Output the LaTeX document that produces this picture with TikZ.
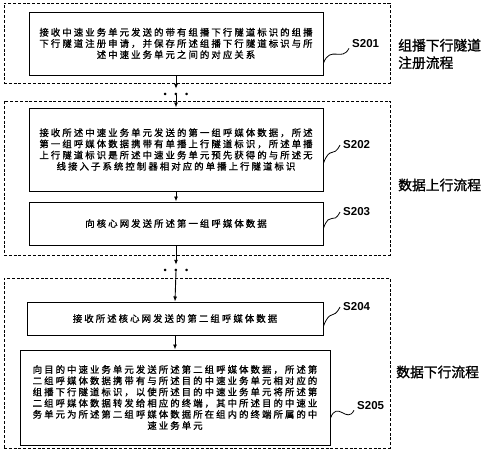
\documentclass[tikz,border=0pt]{standalone}
\usepackage{fontspec}
\usetikzlibrary{arrows.meta}
\newfontfamily\cjk[LetterSpace=22, FakeBold=1.2]{Noto Sans CJK SC}
\newfontfamily\cjkhead[FakeBold=1.2]{Noto Sans CJK SC}
\newfontfamily\steplabel{Liberation Sans}

\begin{document}
\begin{tikzpicture}[x=1pt, y=-1pt,
    stepbox/.style={draw, line width=1pt, align=center, inner sep=0pt, font=\cjk\fontsize{9.4}{11.2}\selectfont},
    groupbox/.style={draw, dash pattern=on 3pt off 1.8pt, line width=0.9pt, minimum width=386pt, inner sep=0pt},
    grouptitle/.style={anchor=west, align=left, inner sep=0pt, font=\cjkhead\fontsize{13.8}{17.5}\selectfont},
    steptag/.style={anchor=west, inner xsep=3pt, inner ysep=0pt, font=\steplabel\bfseries\fontsize{11.5}{12}\selectfont},
    flow/.style={-{Latex[length=5pt,width=4pt]}, line width=0.9pt},
    wave/.style={line width=0.8pt},
    gapdots/.style={minimum height=12pt, inner sep=0pt, font=\fontsize{9}{9}\selectfont}]

        \useasboundingbox (0,0) rectangle (490,450);

        % Draw the three process groups
        \node[groupbox, minimum height=80pt] (group1) at (197,43) {};
        \node[groupbox, minimum height=154pt] (group2) at (197,178) {};
        \node[groupbox, minimum height=170pt] (group3) at (197,363) {};

        \node[grouptitle] (title1) at (398,54) {组播下行隧道\\注册流程};
        \node[grouptitle] (title2) at (398,185) {数据上行流程};
        \node[grouptitle] (title3) at (396,372) {数据下行流程};

        % Draw steps
        \node[stepbox, minimum width=294pt, minimum height=63pt] (s201) at (176,43.5) {接收中速业务单元发送的带有组播下行隧道标识的组播\\下行隧道注册申请，并保存所述组播下行隧道标识与所\\述中速业务单元之间的对应关系};
        \node[stepbox, minimum width=294pt, minimum height=83pt] (s202) at (176,149.5) {接收所述中速业务单元发送的第一组呼媒体数据，所述\\第一组呼媒体数据携带有单播上行隧道标识，所述单播\\上行隧道标识是所述中速业务单元预先获得的与所述无\\线接入子系统控制器相对应的单播上行隧道标识};
        \node[stepbox, minimum width=294pt, minimum height=43pt] (s203) at (176,223.5) {向核心网发送所述第一组呼媒体数据};
        \node[stepbox, minimum width=296pt, minimum height=33pt] (s204) at (175,318.5) {接收所述核心网发送的第二组呼媒体数据};
        \node[stepbox, minimum width=310pt, minimum height=95pt] (s205) at (175,397.5) {向目的中速业务单元发送所述第二组呼媒体数据，所述第\\二组呼媒体数据携带有与所述目的中速业务单元相对应的\\组播下行隧道标识，以使所述目的中速业务单元将所述第\\二组呼媒体数据转发给相应的终端，其中所述目的中速业\\务单元为所述第二组呼媒体数据所在组内的终端所属的中\\速业务单元};

        % Step numbers
        \node[steptag] (t201) at (349,44) {S201};
        \node[steptag] (t202) at (340,145) {S202};
        \node[steptag] (t203) at (340,212) {S203};
        \node[steptag] (t204) at (340,307) {S204};
        \node[steptag] (t205) at (354,406) {S205};

        \draw[wave] ([yshift=-19.5pt]s201.east) .. controls +(7,-18) and +(-7,14) .. (t201.south west);
        \draw[wave] ([yshift=-13.5pt]s202.east) .. controls +(7,-18) and +(-7,14) .. (t202.west);
        \draw[wave] ([yshift=-4.5pt]s203.east) .. controls +(7,-18) and +(-7,14) .. (t203.west);
        \draw[wave] ([yshift=-7.5pt]s204.east) .. controls +(7,-18) and +(-7,14) .. (t204.west);
        \draw[wave] ([yshift=-20.5pt]s205.east) .. controls +(7,-18) and +(-7,14) .. (t205.south west);

        % Draw flow lines
        \node[gapdots] (dots1) at (176,95) {\textbullet\hspace{3.5pt}\textbullet\hspace{3.5pt}\textbullet};
        \node[gapdots] (dots2) at (176,271) {\textbullet\hspace{3.5pt}\textbullet\hspace{3.5pt}\textbullet};

        \draw[flow] (s201.south) -- (dots1.north);
        \draw[flow] (dots1.center) -- (s202.north);
        \draw[flow] (s202.south) -- (s203.north);
        \draw[flow] (s203.south) -- (dots2.north);
        \draw[flow] (dots2.center) -- (s204.north);
        \draw[flow] (s204.south) -- (s205.north);
\end{tikzpicture}
\end{document}
